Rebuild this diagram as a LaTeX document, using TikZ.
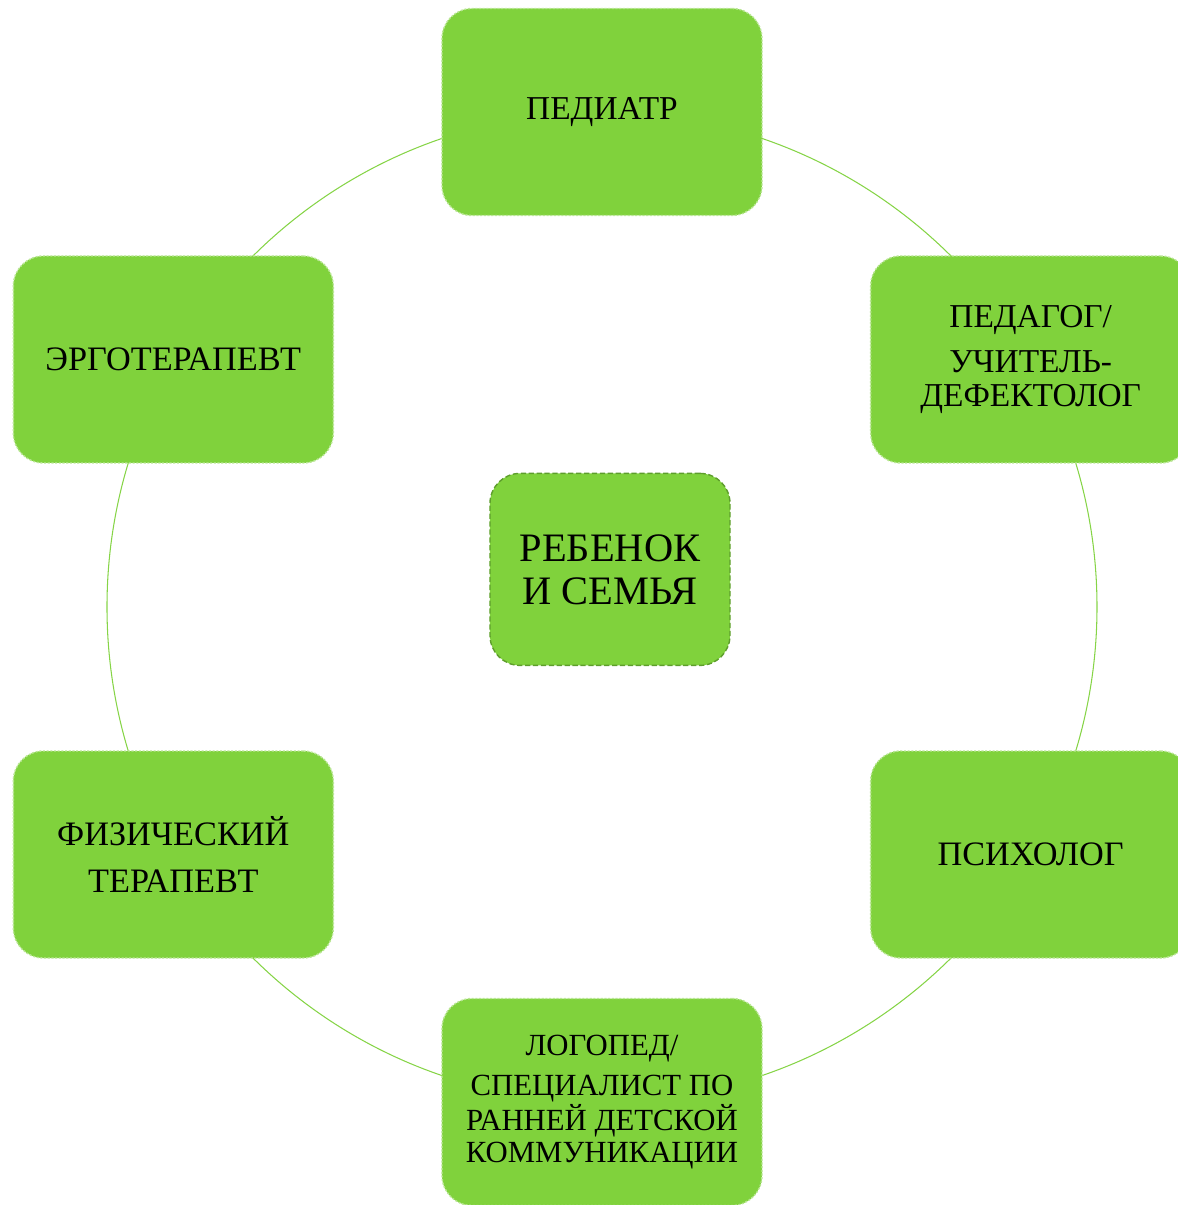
\documentclass[tikz,border=0pt]{standalone}
\usepackage{fontspec}
\setmainfont{Liberation Serif}
\usetikzlibrary{positioning}
\definecolor{leafgreen}{HTML}{80D23C}
\definecolor{rimgreen}{HTML}{5E9E2C}
\definecolor{ringgreen}{HTML}{86D447}

\begin{document}
\begin{tikzpicture}[thick,
    role/.style={rectangle, rounded corners=0.6cm, fill=leafgreen,
      draw=white!45!leafgreen, dash pattern=on 1.2pt off 0.9pt, line width=0.8pt,
      minimum width=6.4cm, minimum height=4.14cm, align=center,
      font=\fontsize{19.5}{21}\selectfont},
    core/.style={rectangle, rounded corners=0.6cm, fill=leafgreen,
      draw=rimgreen, dash pattern=on 3pt off 1.5pt, line width=0.8pt,
      minimum width=4.8cm, minimum height=3.84cm, align=center,
      font=\fontsize{23}{24.5}\selectfont}]

  \useasboundingbox (-12.04,-11.96) rectangle (11.52,12.14);

  % Connect the nodes (ring behind the boxes)
  \node[circle, draw=ringgreen, line width=0.6pt, minimum size=19.8cm, inner sep=0pt] (Ring) at (0,0) {};

  % Define nodes
  \node[role, font=\fontsize{19}{19}\selectfont] (Pediatr) at (90:9.9) {ПЕДИАТР};
  \node[role, font=\fontsize{19}{19}\selectfont] (Pedagog) at (30:9.9) {ПЕДАГОГ/\\[0.24cm]УЧИТЕЛЬ-\\ДЕФЕКТОЛОГ};
  \node[role] (Psycholog) at (-30:9.9) {ПСИХОЛОГ};
  \node[role, font=\fontsize{17.5}{18.2}\selectfont] (Logoped) at (-90:9.9) {ЛОГОПЕД/\\[0.16cm]СПЕЦИАЛИСТ ПО\\РАННЕЙ ДЕТСКОЙ\\КОММУНИКАЦИИ};
  \node[role, font=\fontsize{19.5}{27}\selectfont] (Physio) at (-150:9.9) {ФИЗИЧЕСКИЙ\\ТЕРАПЕВТ};
  \node[role] (Ergo) at (150:9.9) {ЭРГОТЕРАПЕВТ};
  \node[core, below=5.13 of Pediatr, xshift=0.16cm] (Child) {РЕБЕНОК\\И СЕМЬЯ};

\end{tikzpicture}
\end{document}
